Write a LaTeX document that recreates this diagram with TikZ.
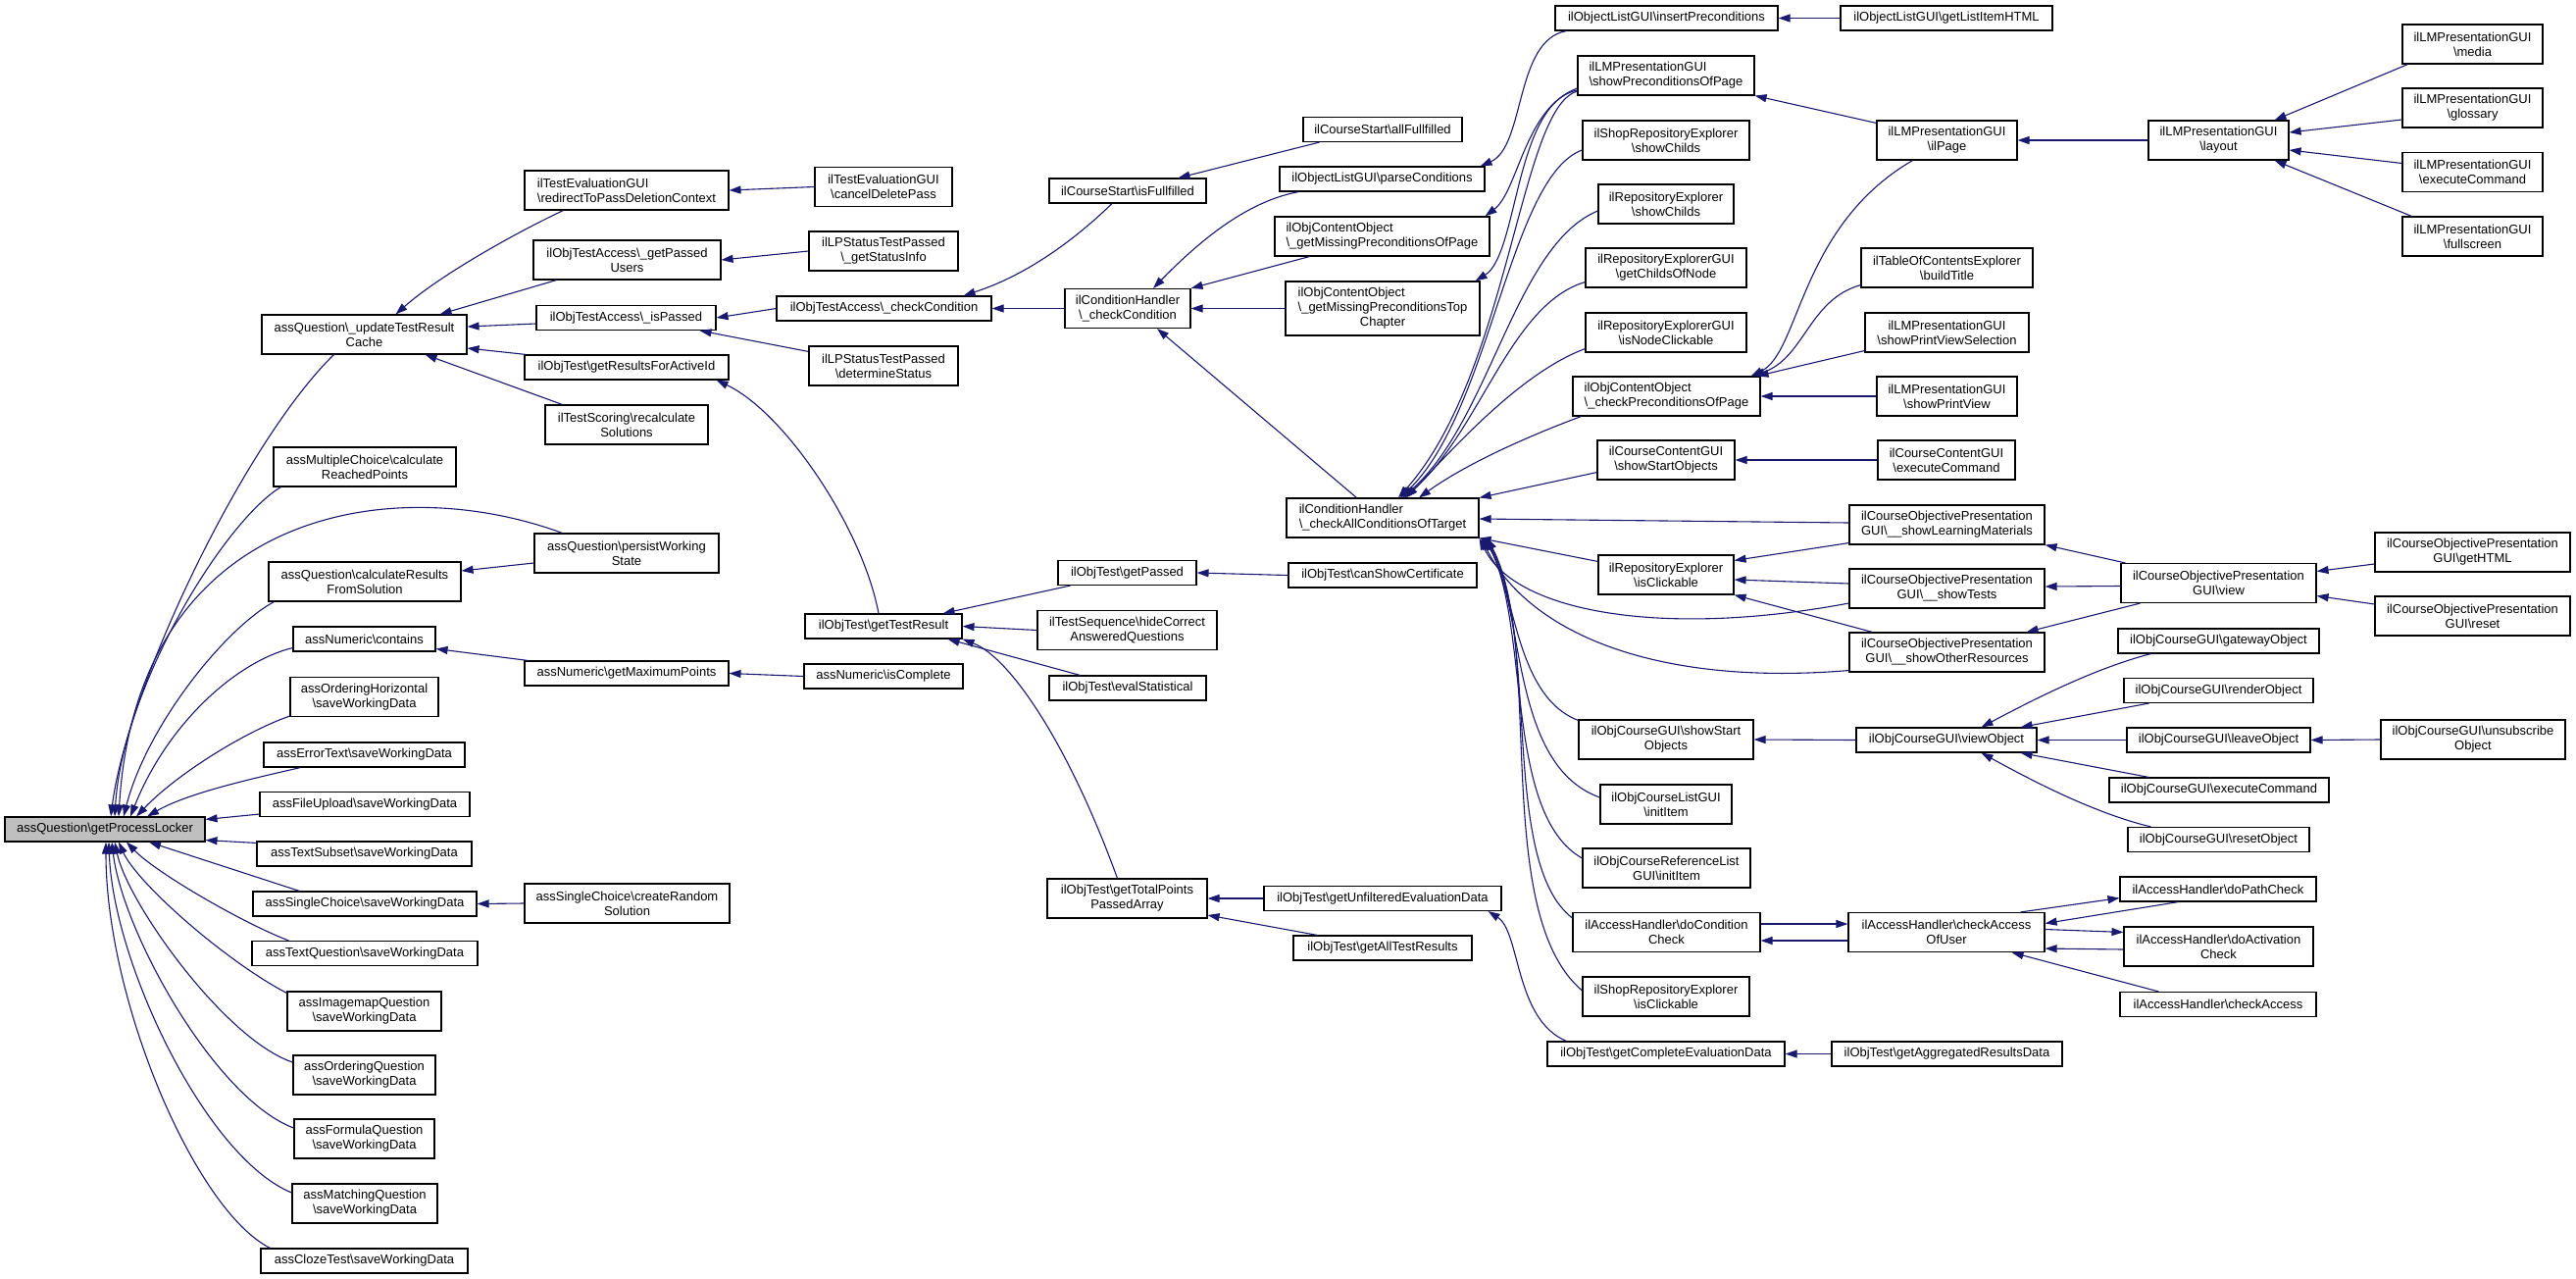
\documentclass[tikz,border=0pt]{standalone}
\usepackage{fontspec}
\setmainfont{Liberation Sans}
\usepackage{tikz}
\usetikzlibrary{calc}
\usetikzlibrary{arrows.meta}
\definecolor{midnight}{HTML}{191970}
\definecolor{callergray}{HTML}{BFBFBF}
\tikzstyle{fn} =
[
	draw,rectangle,line width=1.1pt,fill=white,inner sep=0pt,
	align=center,font=\fontsize{13}{15}\selectfont
]
\tikzstyle{l1} = [minimum height=25pt]
\tikzstyle{l2} = [minimum height=40pt]
\tikzstyle{l3} = [minimum height=55pt]
\tikzstyle{call} =
[
	<-,draw=midnight,line width=1.1pt
]
\newcommand{\bsl}{\textbackslash}
\begin{document}
\begin{tikzpicture}[x=1pt,y=-1pt,>={Triangle[length=12pt,width=8pt]}]

\path[use as bounding box,fill=white] (0,0) rectangle (2627,1304);

\node[fn,l1,fill=callergray,minimum width=204pt] (gpl) at (107,845.5) {assQuestion\bsl getProcessLocker};

\node[fn,l2,minimum width=209pt] (utrc) at (371.5,341) {assQuestion\bsl\_updateTestResult\\Cache};
\node[fn,l2,minimum width=186pt] (mcrp) at (372,476) {assMultipleChoice\bsl calculate\\ReachedPoints};
\node[fn,l2,minimum width=196pt] (qcrs) at (372,593) {assQuestion\bsl calculateResults\\FromSolution};
\node[fn,l1,minimum width=145pt] (ncon) at (371.5,651.5) {assNumeric\bsl contains};
\node[fn,l2,minimum width=151pt] (ohsw) at (371.5,710.5) {assOrderingHorizontal\\\bsl saveWorkingData};
\node[fn,l1,minimum width=205pt] (etsw) at (371.5,769.5) {assErrorText\bsl saveWorkingData};
\node[fn,l1,minimum width=214pt] (fusw) at (372,820) {assFileUpload\bsl saveWorkingData};
\node[fn,l1,minimum width=219pt] (tssw) at (371.5,870.5) {assTextSubset\bsl saveWorkingData};
\node[fn,l1,minimum width=228pt] (scsw) at (372,921.5) {assSingleChoice\bsl saveWorkingData};
\node[fn,l1,minimum width=230pt] (tqsw) at (372,972) {assTextQuestion\bsl saveWorkingData};
\node[fn,l2,minimum width=157pt] (imsw) at (371.5,1031) {assImagemapQuestion\\\bsl saveWorkingData};
\node[fn,l2,minimum width=145pt] (oqsw) at (371.5,1096) {assOrderingQuestion\\\bsl saveWorkingData};
\node[fn,l2,minimum width=143pt] (fqsw) at (371.5,1161) {assFormulaQuestion\\\bsl saveWorkingData};
\node[fn,l2,minimum width=148pt] (mqsw) at (372,1227) {assMatchingQuestion\\\bsl saveWorkingData};
\node[fn,l1,minimum width=211pt] (ctsw) at (371.5,1285.5) {assClozeTest\bsl saveWorkingData};

\node[fn,l2,align=left,minimum width=208pt] (redir) at (639,194) {ilTestEvaluationGUI\\\bsl redirectToPassDeletionContext};
\node[fn,l2,minimum width=191pt] (gpu) at (639.5,265) {ilObjTestAccess\bsl\_getPassed\\Users};
\node[fn,l1,minimum width=183pt] (ispassed) at (638.5,324) {ilObjTestAccess\bsl\_isPassed};
\node[fn,l1,minimum width=208pt] (grfa) at (639,374.5) {ilObjTest\bsl getResultsForActiveId};
\node[fn,l2,minimum width=166pt] (recalc) at (639,433) {ilTestScoring\bsl recalculate\\Solutions};
\node[fn,l2,minimum width=188pt] (pws) at (639,564) {assQuestion\bsl persistWorking\\State};
\node[fn,l1,minimum width=208pt] (gmp) at (639,686.5) {assNumeric\bsl getMaximumPoints};
\node[fn,l2,minimum width=209pt] (crs) at (639.5,921) {assSingleChoice\bsl createRandom\\Solution};

\node[fn,l2,minimum width=140pt] (cdp) at (901,190.5) {ilTestEvaluationGUI\\\bsl cancelDeletePass};
\node[fn,l2,minimum width=152pt] (gsi) at (901,256) {ilLPStatusTestPassed\\\bsl\_getStatusInfo};
\node[fn,l1,minimum width=219pt] (otacc) at (901.5,314.5) {ilObjTestAccess\bsl\_checkCondition};
\node[fn,l2,minimum width=152pt] (dst) at (901,373) {ilLPStatusTestPassed\\\bsl determineStatus};
\node[fn,l1,minimum width=160pt] (gtr) at (901,638.5) {ilObjTest\bsl getTestResult};
\node[fn,l1,minimum width=162pt] (iscomp) at (901,689.5) {assNumeric\bsl isComplete};

\node[fn,l1,minimum width=160pt] (isff) at (1150,194.5) {ilCourseStart\bsl isFullfilled};
\node[fn,l2,minimum width=128pt] (chcc) at (1150,314.5) {ilConditionHandler\\\bsl\_checkCondition};
\node[fn,l1,minimum width=141pt] (gpassed) at (1149.5,584) {ilObjTest\bsl getPassed};
\node[fn,l2,minimum width=183pt] (hcaq) at (1149.5,642.5) {ilTestSequence\bsl hideCorrect\\AnsweredQuestions};
\node[fn,l1,minimum width=160pt] (evst) at (1150,701.5) {ilObjTest\bsl evalStatistical};
\node[fn,l2,minimum width=163pt] (gtppa) at (1149.5,916) {ilObjTest\bsl getTotalPoints\\PassedArray};

\node[fn,l1,minimum width=162pt] (allff) at (1410,132) {ilCourseStart\bsl allFullfilled};
\node[fn,l1,minimum width=209pt] (parsec) at (1409.5,182.5) {ilObjectListGUI\bsl parseConditions};
\node[fn,l2,align=left,minimum width=219pt] (gmpop) at (1409.5,241) {ilObjContentObject\\\bsl\_getMissingPreconditionsOfPage};
\node[fn,l3,minimum width=198pt] (gmptc) at (1410,314.5) {\rlap{ilObjContentObject}\phantom{\bsl\_getMissingPreconditionsTop}\\\bsl\_getMissingPreconditionsTop\\Chapter};
\node[fn,l2,align=left,minimum width=196pt] (chac) at (1410,528) {ilConditionHandler\\\bsl\_checkAllConditionsOfTarget};
\node[fn,l1,minimum width=192pt] (csc) at (1410,586.5) {ilObjTest\bsl canShowCertificate};
\node[fn,l1,minimum width=242pt] (gued) at (1410,916) {ilObjTest\bsl getUnfilteredEvaluationData};
\node[fn,l1,minimum width=182pt] (gatr) at (1410,966.5) {ilObjTest\bsl getAllTestResults};

\node[fn,l1,minimum width=227pt] (inspre) at (1699.5,18.5) {ilObjectListGUI\bsl insertPreconditions};
\node[fn,l2,align=left,minimum width=180pt] (spop) at (1699,77) {ilLMPresentationGUI\\\bsl showPreconditionsOfPage};
\node[fn,l2,minimum width=170pt] (srsc) at (1699,143) {ilShopRepositoryExplorer\\\bsl showChilds};
\node[fn,l2,minimum width=138pt] (rsc) at (1699,208) {ilRepositoryExplorer\\\bsl showChilds};
\node[fn,l2,minimum width=164pt] (gcon) at (1699,273) {ilRepositoryExplorerGUI\\\bsl getChildsOfNode};
\node[fn,l2,minimum width=164pt] (inc) at (1699,339) {ilRepositoryExplorerGUI\\\bsl isNodeClickable};
\node[fn,l2,align=left,minimum width=191pt] (cpop) at (1699.5,404) {ilObjContentObject\\\bsl\_checkPreconditionsOfPage};
\node[fn,l2,minimum width=140pt] (ccsso) at (1699,469) {ilCourseContentGUI\\\bsl showStartObjects};
\node[fn,l2,minimum width=138pt] (reic) at (1699,586) {ilRepositoryExplorer\\\bsl isClickable};
\node[fn,l2,minimum width=178pt] (ocsso) at (1699,754) {ilObjCourseGUI\bsl showStart\\Objects};
\node[fn,l2,minimum width=134pt] (oclii) at (1699,820) {ilObjCourseListGUI\\\bsl initItem};
\node[fn,l2,minimum width=171pt] (ocrli) at (1699.5,885) {ilObjCourseReferenceList\\GUI\bsl initItem};
\node[fn,l2,minimum width=191pt] (dcc) at (1699.5,950.5) {ilAccessHandler\bsl doCondition\\Check};
\node[fn,l2,minimum width=170pt] (sric) at (1699,1016) {ilShopRepositoryExplorer\\\bsl isClickable};
\node[fn,l1,minimum width=242pt] (gced) at (1699,1074.5) {ilObjTest\bsl getCompleteEvaluationData};

\node[fn,l1,minimum width=216pt] (glih) at (1985,18.5) {ilObjectListGUI\bsl getListItemHTML};
\node[fn,l2,minimum width=143pt] (ilpage) at (1985.5,143) {ilLMPresentationGUI\\\bsl ilPage};
\node[fn,l2,minimum width=175pt] (bt) at (1985.5,273) {ilTableOfContentsExplorer\\\bsl buildTitle};
\node[fn,l2,minimum width=167pt] (spvs) at (1985.5,339) {ilLMPresentationGUI\\\bsl showPrintViewSelection};
\node[fn,l2,minimum width=143pt] (spv) at (1985.5,404) {ilLMPresentationGUI\\\bsl showPrintView};
\node[fn,l2,minimum width=140pt] (ccec) at (1985,469) {ilCourseContentGUI\\\bsl executeCommand};
\node[fn,l2,minimum width=199pt] (slm) at (1985.5,535) {ilCourseObjectivePresentation\\GUI\bsl\_\_showLearningMaterials};
\node[fn,l2,minimum width=199pt] (stests) at (1985.5,600) {ilCourseObjectivePresentation\\GUI\bsl\_\_showTests};
\node[fn,l2,minimum width=199pt] (sor) at (1985.5,665) {ilCourseObjectivePresentation\\GUI\bsl\_\_showOtherResources};
\node[fn,l1,minimum width=184pt] (vo) at (1985,754.5) {ilObjCourseGUI\bsl viewObject};
\node[fn,l2,minimum width=200pt] (cau) at (1985,950.5) {ilAccessHandler\bsl checkAccess\\OfUser};
\node[fn,l1,minimum width=235pt] (gard) at (1985.5,1074.5) {ilObjTest\bsl getAggregatedResultsData};

\node[fn,l2,minimum width=143pt] (layout) at (2262.5,143) {ilLMPresentationGUI\\\bsl layout};
\node[fn,l2,minimum width=199pt] (copview) at (2262.5,594.5) {ilCourseObjectivePresentation\\GUI\bsl view};
\node[fn,l1,minimum width=205pt] (gwo) at (2262.5,653.5) {ilObjCourseGUI\bsl gatewayObject};
\node[fn,l1,minimum width=193pt] (ro) at (2262.5,704) {ilObjCourseGUI\bsl renderObject};
\node[fn,l1,minimum width=187pt] (lo) at (2262.5,754.5) {ilObjCourseGUI\bsl leaveObject};
\node[fn,l1,minimum width=224pt] (oec) at (2263,805.5) {ilObjCourseGUI\bsl executeCommand};
\node[fn,l1,minimum width=185pt] (rso) at (2262.5,856) {ilObjCourseGUI\bsl resetObject};
\node[fn,l1,minimum width=200pt] (dpc) at (2262,906.5) {ilAccessHandler\bsl doPathCheck};
\node[fn,l2,minimum width=193pt] (dac) at (2262.5,965) {ilAccessHandler\bsl doActivation\\Check};
\node[fn,l1,minimum width=200pt] (cacc) at (2262,1024) {ilAccessHandler\bsl checkAccess};

\node[fn,l2,minimum width=143pt] (media) at (2521.5,45) {ilLMPresentationGUI\\\bsl media};
\node[fn,l2,minimum width=143pt] (glos) at (2521.5,110) {ilLMPresentationGUI\\\bsl glossary};
\node[fn,l2,minimum width=143pt] (lmec) at (2521.5,175.5) {ilLMPresentationGUI\\\bsl executeCommand};
\node[fn,l2,minimum width=143pt] (fulls) at (2521.5,241) {ilLMPresentationGUI\\\bsl fullscreen};
\node[fn,l2,minimum width=199pt] (gethtml) at (2521.5,563) {ilCourseObjectivePresentation\\GUI\bsl getHTML};
\node[fn,l2,minimum width=199pt] (reset) at (2521.5,628) {ilCourseObjectivePresentation\\GUI\bsl reset};
\node[fn,l2,minimum width=188pt] (unsub) at (2522,754) {ilObjCourseGUI\bsl unsubscribe\\Object};

% callers of getProcessLocker
\draw[call] ($(gpl.north)+(6,0)$) .. controls +(17,-133) and +(-91,89) .. ($(utrc.south west)+(74,0)$);
\draw[call] ($(gpl.north)+(10,0)$) .. controls +(8,-133) and +(-57,34) .. ($(mcrp.south west)+(8,0)$);
\draw[call] ($(gpl.north)+(14,0)$) .. controls +(19,-313) and +(-174,-64) .. ($(pws.north west)+(29,0)$);
\draw[call] ($(gpl.north)+(19,0)$) .. controls +(24,-93) and +(-50,27) .. ($(qcrs.south west)+(6,0)$);
\draw[call] ($(gpl.north)+(26,0)$) .. controls +(37,-93) and +(-59,14.5) .. ($(ncon.west)+(0,9)$);
\draw[call] ($(gpl.north)+(32,0)$) .. controls +(41,-43) and +(-46,16) .. ($(ohsw.south west)+(0,-1)$);
\draw[call] ($(gpl.north)+(43,0)$) .. controls +(40,-23) and +(-57,13) .. ($(etsw.south west)+(38,0)$);
\draw[call] ($(gpl.north east)+(0,3)$) -- ($(fusw.south west)+(0,-3)$);
\draw[call] ($(gpl.south east)+(0,-2)$) -- ($(tssw.north west)+(0,2)$);
\draw[call] ($(gpl.south)+(45,0)$) -- ($(scsw.north west)+(48,0)$);
\draw[call] ($(gpl.south)+(22,0)$) .. controls +(31,32) and +(-45,-17) .. ($(tqsw.north west)+(38,0)$);
\draw[call] ($(gpl.south)+(14,0)$) .. controls +(19,42) and +(-63,-33) .. ($(imsw.north west)+(0,2)$);
\draw[call] ($(gpl.south)+(10,0)$) .. controls +(13,62) and +(-69,-23) .. ($(oqsw.west)+(0,-13)$);
\draw[call] ($(gpl.south)+(7,0)$) .. controls +(11,92) and +(-80,-30) .. ($(fqsw.west)+(0,-11)$);
\draw[call] ($(gpl.south)+(4,0)$) .. controls +(4,122) and +(-88,-36) .. ($(mqsw.west)+(0,-11)$);
\draw[call] ($(gpl.south)+(1,0)$) .. controls +(0,162) and +(-76,-38) .. ($(ctsw.north west)+(10,0)$);

\draw[call] ($(utrc.north)+(32,0)$) .. controls +(46.5,-41) and +(-45,21) .. ($(redir.south west)+(40,0)$);
\draw[call] ($(utrc.north east)+(-28,0)$) -- ($(gpu.south west)+(24,0)$);
\draw[call] ($(utrc.east)+(0,-8)$) -- ($(ispassed.west)+(0,6)$);
\draw[call] ($(utrc.east)+(0,14)$) -- ($(grfa.north west)+(2,0)$);
\draw[call] ($(utrc.south east)+(-43,0)$) -- ($(recalc.north west)+(18,0)$);
\draw[call] ($(qcrs.east)+(0,-11)$) -- ($(pws.west)+(0,10)$);
\draw[call] ($(ncon.east)+(0,10)$) -- ($(gmp.north west)+(4,0)$);
\draw[call] (gmp.east) -- (iscomp.west);
\draw[call] (scsw.east) -- (crs.west);

\draw[call] (redir.east) -- (cdp.west);
\draw[call] (gpu.east) -- (gsi.west);
\draw[call] (ispassed.east) -- (otacc.west);
\draw[call] ($(ispassed.south east)+(-17,0)$) -- ($(dst.north west)+(0,6)$);
\draw[call] ($(grfa.south east)+(-13,0)$) .. controls +(70,33) and +(-16,-86) .. ($(gtr.north)+(-5,0)$);
\draw[call] (otacc.east) -- (chcc.west);
\draw[call] ($(otacc.north east)+(-29,0)$) .. controls +(68,-22) and +(-34,33) .. ($(isff.south)+(-16,0)$);
\draw[call] ($(isff.north east)+(-29,0)$) -- ($(allff.south west)+(17,0)$);

\draw[call] ($(gtr.north east)+(-20,0)$) -- ($(gpassed.south west)+(13,0)$);
\draw[call] (gtr.east) -- (hcaq.west);
\draw[call] ($(gtr.south east)+(-15,0)$) -- ($(evst.north west)+(32,0)$);
\draw[call] (gtr.south east) .. controls +(49,19) and +(-49.5,-136) .. ($(gtppa.north)+(-10,0)$);
\draw[call] (gpassed.east) -- (csc.west);
\draw[call] (gtppa.east) -- (gued.west);
\draw[call] ($(gtppa.east)+(0,17)$) -- ($(gatr.north west)+(25,0)$);
\draw[call] ($(gued.south east)+(-14,0)$) .. controls +(33,21) and +(-53,-22) .. ($(gced.north west)+(20,0)$);
\draw[call] (gced.east) -- (gard.west);

\draw[call] ($(chcc.north)+(26,0)$) .. controls +(44,-45) and +(-55,10) .. ($(parsec.south west)+(20,0)$);
\draw[call] (chcc.north east) -- ($(gmpop.south west)+(36,0)$);
\draw[call] (chcc.east) -- (gmptc.west);
\draw[call] ($(chcc.south)+(30,0)$) -- ($(chac.north west)+(72,0)$);

\draw[call] ($(parsec.north east)+(-5,0)$) .. controls +(46,-20) and +(-53,9) .. ($(inspre.south west)+(12,0)$);
\draw[call] ($(gmpop.north east)+(-5,0)$) .. controls +(34,-26) and +(-54,20) .. ($(spop.west)+(0,13)$);
\draw[call] ($(gmptc.north east)+(-5,0)$) .. controls +(44,-27) and +(-64,13) .. ($(spop.west)+(0,15)$);
\draw[call] (inspre.east) -- (glih.west);
\draw[call] (spop.south east) -- ($(ilpage.north west)+(0,3)$);
\draw[call] (ilpage.east) -- (layout.west);
\draw[call] ($(layout.north east)+(-15,0)$) -- ($(media.south west)+(6,0)$);
\draw[call] ($(layout.east)+(0,-8)$) -- ($(glos.west)+(0,12)$);
\draw[call] ($(layout.east)+(0,10)$) -- ($(lmec.west)+(0,-9)$);
\draw[call] ($(layout.south east)+(-15,0)$) -- ($(fulls.north west)+(10,0)$);

\draw[call] ($(cpop.north east)+(-10,0)$) .. controls +(50,-24) and +(-115.5,67) .. ($(ilpage.south)+(-35,0)$);
\draw[call] ($(cpop.north east)+(-8,0)$) .. controls +(53,-19) and +(-53,15) .. ($(bt.south west)+(0,-3)$);
\draw[call] ($(cpop.north east)+(-4,0)$) -- ($(spvs.south west)+(0,-2)$);
\draw[call] (cpop.east) -- (spv.west);

% callers of _checkAllConditionsOfTarget
\draw[call] ($(chac.north)+(16,0)$) .. controls +(114,-128) and +(-59,17) .. ($(spop.west)+(0,16)$);
\draw[call] ($(chac.north)+(18,0)$) .. controls +(92,-88) and +(-74,27) .. ($(srsc.west)+(0,10)$);
\draw[call] ($(chac.north)+(20,0)$) .. controls +(90,-78) and +(-85,35) .. ($(rsc.west)+(0,7)$);
\draw[call] ($(chac.north)+(22,0)$) .. controls +(78,-68) and +(-77,23) .. ($(gcon.south west)+(0,-6)$);
\draw[call] ($(chac.north)+(24,0)$) .. controls +(46,-48) and +(-67,25) .. ($(inc.south west)+(0,-4)$);
\draw[call] ($(chac.north)+(37,0)$) .. controls +(53,-38) and +(-43,16) .. ($(cpop.south west)+(9,0)$);
\draw[call] (chac.north east) -- ($(ccsso.south west)+(0,-8)$);
\draw[call] ($(chac.east)+(0,1)$) -- ($(slm.west)+(0,-2)$);
\draw[call] (chac.south east) -- ($(reic.north west)+(0,7)$);
\draw[call] (chac.south east) .. controls +(37,77) and +(-186,35) .. ($(stests.west)+(0,15)$);
\draw[call] ($(chac.south east)+(2,0)$) .. controls +(45,92) and +(-206,17) .. ($(sor.south west)+(0,-2)$);
\draw[call] ($(chac.south east)+(4,0)$) .. controls +(33,52) and +(-65,-25) .. ($(ocsso.north west)+(0,1)$);
\draw[call] ($(chac.south east)+(5,0)$) .. controls +(42,72) and +(-92,-33) .. ($(oclii.west)+(0,-7)$);
\draw[call] ($(chac.south east)+(6,0)$) .. controls +(46,92) and +(-79.5,-45) .. ($(ocrli.west)+(0,-10)$);
\draw[call] ($(chac.south east)+(7,0)$) .. controls +(55,102) and +(-74,-57) .. ($(dcc.north west)+(0,6)$);
\draw[call] ($(chac.south east)+(8,0)$) .. controls +(59,112) and +(-94,-80) .. ($(sric.west)+(0,-6)$);

\draw[call] (ccsso.east) -- (ccec.west);
\draw[call] ($(reic.north east)+(0,6)$) -- ($(slm.south west)+(0,-2)$);
\draw[call] ($(reic.east)+(0,5)$) -- ($(stests.west)+(0,-5)$);
\draw[call] (reic.south east) -- ($(sor.north west)+(24,0)$);
\draw[call] (slm.south east) -- ($(copview.north west)+(5,0)$);
\draw[call] ($(stests.east)+(0,-2)$) -- ($(copview.west)+(0,3)$);
\draw[call] ($(sor.north east)+(-19,0)$) -- ($(copview.south west)+(20,0)$);
\draw[call] ($(copview.east)+(0,-12)$) -- ($(gethtml.west)+(0,12)$);
\draw[call] ($(copview.east)+(0,13)$) -- ($(reset.west)+(0,-12)$);

\draw[call] (ocsso.east) -- (vo.west);
\draw[call] ($(vo.north east)+(-57,0)$) .. controls +(60,-32) and +(-54,14) .. ($(gwo.south west)+(34,0)$);
\draw[call] ($(vo.north east)+(-17,0)$) -- ($(ro.south west)+(26,0)$);
\draw[call] (vo.east) -- (lo.west);
\draw[call] ($(vo.south east)+(-17,0)$) -- ($(oec.north west)+(41,0)$);
\draw[call] ($(vo.south east)+(-57,0)$) .. controls +(60,33) and +(-54,-13) .. ($(rso.north west)+(24,0)$);
\draw[call] (lo.east) -- (unsub.west);

\draw[call] ($(cau.west)+(0,-8.5)$) -- ($(dcc.east)+(0,-8.5)$);
\draw[call] ($(dcc.east)+(0,8.5)$) -- ($(cau.west)+(0,8.5)$);
\draw[call] ($(dpc.south west)+(0,-4)$) -- ($(cau.north east)+(-25,0)$);
\draw[call] ($(cau.east)+(0,-9)$) -- ($(dpc.south west)+(60,0)$);
\draw[call] ($(dac.north west)+(0,6)$) -- ($(cau.east)+(0,-3)$);
\draw[call] ($(cau.south east)+(0,-4)$) -- ($(dac.west)+(0,3)$);
\draw[call] ($(cau.south east)+(-34,0)$) -- ($(cacc.north west)+(40,0)$);

\end{tikzpicture}
\end{document}
